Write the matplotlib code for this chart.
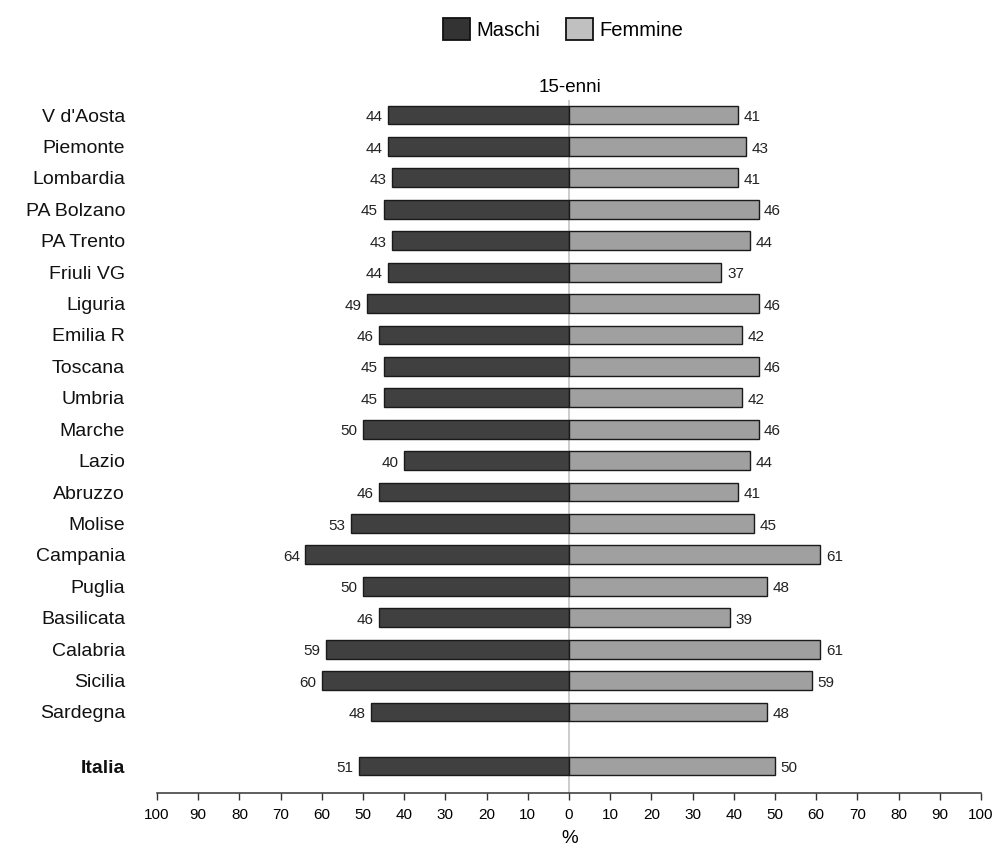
import numpy as np
import matplotlib
matplotlib.use("Agg")
import matplotlib.pyplot as plt
from matplotlib.patches import Patch

regions = ["V d'Aosta", "Piemonte", "Lombardia", "PA Bolzano", "PA Trento", "Friuli VG",
           "Liguria", "Emilia R", "Toscana", "Umbria", "Marche", "Lazio", "Abruzzo",
           "Molise", "Campania", "Puglia", "Basilicata", "Calabria", "Sicilia", "Sardegna"]
maschi = [44, 44, 43, 45, 43, 44, 49, 46, 45, 45, 50, 40, 46, 53, 64, 50, 46, 59, 60, 48]
femmine = [41, 43, 41, 46, 44, 37, 46, 42, 46, 42, 46, 44, 41, 45, 61, 48, 39, 61, 59, 48]
total_label = "Italia"
maschi_italia = 51
femmine_italia = 50
xticks = list(range(-100, 101, 10))

plt.rcParams['font.family'] = ['Liberation Sans', 'DejaVu Sans']

fig = plt.figure(figsize=(9.95, 8.49), dpi=100)
ax = fig.add_axes([157/995, 56/849, 824/995, 693/849])

n = len(regions)
ypos = list(np.arange(n)) + [n - 1 + 1.72]
labels = regions + [total_label]
m_vals = maschi + [maschi_italia]
f_vals = femmine + [femmine_italia]

ax.axvline(0, color='#c8c8c8', lw=1.3, zorder=0)
h = 0.6
ax.barh(ypos, [-v for v in m_vals], height=h, color='#404040', edgecolor='#1a1a1a', lw=1, zorder=2)
ax.barh(ypos, f_vals, height=h, color='#a0a0a0', edgecolor='#1a1a1a', lw=1, zorder=2)

for y, mv, fv in zip(ypos, m_vals, f_vals):
    ax.annotate(str(mv), (-mv, y), xytext=(-4, -1.5), textcoords='offset points',
                ha='right', va='center', fontsize=11, color='#222222',
                family=['Liberation Sans Narrow', 'Liberation Sans'])
    ax.annotate(str(fv), (fv, y), xytext=(4, -1.5), textcoords='offset points',
                ha='left', va='center', fontsize=11, color='#222222',
                family=['Liberation Sans Narrow', 'Liberation Sans'])

ax.set_xlim(-100, 100)
ax.set_ylim((793 - 115) / 31.42, -15 / 31.42)
ax.set_xticks(xticks)
ax.set_xticklabels([str(abs(t)) for t in xticks], fontsize=11,
                   family=['Liberation Sans Narrow', 'Liberation Sans'])
ax.tick_params(axis='x', direction='out', length=5, width=1, pad=6, color='#333333')
ax.set_yticks(ypos)
ax.set_yticklabels(labels, fontsize=14, color='#111111')
ax.get_yticklabels()[-1].set_fontweight('bold')
ax.tick_params(axis='y', length=0, pad=23)
for s in ['top', 'right', 'left']:
    ax.spines[s].set_visible(False)
ax.spines['bottom'].set_color('#333333')
ax.spines['bottom'].set_linewidth(1.1)

fig.text(570/995, 1 - 847/849, '%', ha='center', va='bottom', fontsize=13.5)
fig.text(570/995, 1 - 88/849, '15-enni', ha='center', va='center', fontsize=13.5)

handles = [Patch(facecolor='#333333', edgecolor='#111111', lw=1.3, label='Maschi'),
           Patch(facecolor='#c0c0c0', edgecolor='#111111', lw=1.3, label='Femmine')]
fig.legend(handles=handles, loc='center', bbox_to_anchor=(563/995, 1 - 29/849), ncol=2,
           frameon=False, fontsize=14.5, handlelength=1.35, handleheight=1.35,
           handletextpad=0.3, columnspacing=1.3)

fig.savefig('out.png', dpi=100)
